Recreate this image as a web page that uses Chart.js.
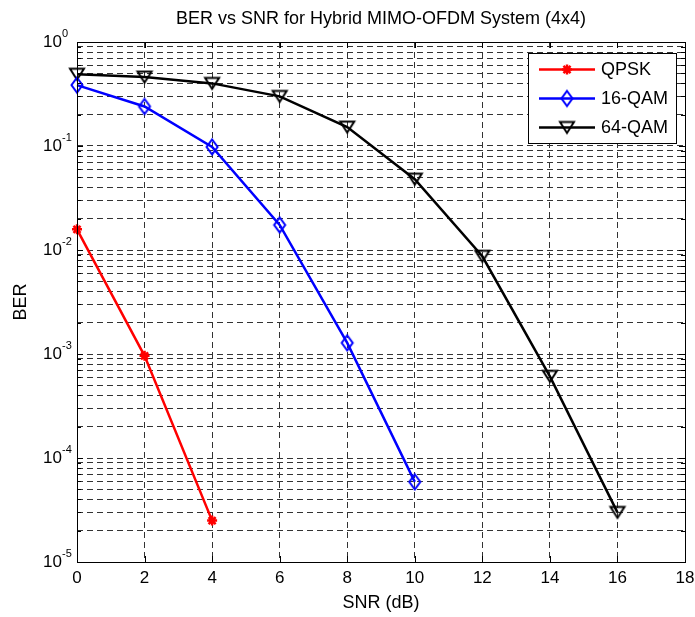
<!DOCTYPE html>
<html><head><meta charset="utf-8">
<style>html,body{margin:0;padding:0;background:#fff;}#wrap{width:695px;height:617px;}</style>
<script src="https://cdn.jsdelivr.net/npm/chart.js@4.4.0/dist/chart.umd.min.js"></script>
</head><body><div id="wrap"><canvas id="c" width="695" height="617"></canvas></div>
<script>
// ---- data ----
const titleText = 'BER vs SNR for Hybrid MIMO-OFDM System (4x4)';
const xAxisLabel = 'SNR (dB)';
const yAxisLabel = 'BER';
const seriesNames = ['QPSK', '16-QAM', '64-QAM'];
const snrQPSK = [0, 2, 4];
const berQPSK = [0.0158, 0.00096, 0.000025];
const snr16QAM = [0, 2, 4, 6, 8, 10];
const ber16QAM = [0.385, 0.24, 0.098, 0.0174, 0.00128, 0.000059];
const snr64QAM = [0, 2, 4, 6, 8, 10, 12, 14, 16];
const ber64QAM = [0.49, 0.46, 0.40, 0.30, 0.152, 0.048, 0.0087, 0.00061, 0.00003];
const xTickValues = [0, 2, 4, 6, 8, 10, 12, 14, 16, 18];
const yDecadeExponents = [-5, -4, -3, -2, -1, 0];
const yMinorMultipliers = [1, 2, 3, 4, 5, 6, 7, 8, 9];

const yTickValues = [];
yDecadeExponents.forEach(e => {
  if (e === 0) { yTickValues.push(1); return; }
  yMinorMultipliers.forEach(m => yTickValues.push(m * Math.pow(10, e)));
});

function pts(xs, ys) { return xs.map((x, i) => ({x: x, y: ys[i]})); }

// ---- marker images ----
function makeDiamond(color) {
  const c = document.createElement('canvas'); c.width = 16; c.height = 20;
  const g = c.getContext('2d');
  g.strokeStyle = color; g.lineWidth = 2;
  g.beginPath(); g.moveTo(8, 2.5); g.lineTo(13.5, 10); g.lineTo(8, 17.5); g.lineTo(2.5, 10); g.closePath(); g.stroke();
  return c;
}
function makeTriDown(color) {
  const c = document.createElement('canvas'); c.width = 20; c.height = 18;
  const g = c.getContext('2d');
  g.strokeStyle = color; g.lineWidth = 2; g.lineJoin = 'miter';
  g.beginPath(); g.moveTo(3, 3.5); g.lineTo(17, 3.5); g.lineTo(10, 14.5); g.closePath(); g.stroke();
  return c;
}
const diamondImg = makeDiamond('#0000ff');
const triImg = makeTriDown('#000000');

const FONT = "'Liberation Sans', Arial, Helvetica, sans-serif";

const decor = {
  id: 'decor',
  afterDraw(chart) {
    const ctx = chart.ctx, a = chart.chartArea;
    const ys = chart.scales.y, xs = chart.scales.x;
    ctx.save();
    // frame
    ctx.strokeStyle = '#000'; ctx.lineWidth = 1; ctx.setLineDash([]);
    ctx.strokeRect(Math.round(a.left) + 0.5, Math.round(a.top) + 0.5, Math.round(a.right - a.left), Math.round(a.bottom - a.top));
    // y ticks (inside, left and right)
    ctx.beginPath();
    yTickValues.forEach(v => {
      const y = Math.round(ys.getPixelForValue(v)) + 0.5;
      const len = (Math.abs(Math.log10(v) - Math.round(Math.log10(v))) < 1e-9) ? 6 : 4;
      ctx.moveTo(a.left, y); ctx.lineTo(a.left + len, y);
      ctx.moveTo(a.right, y); ctx.lineTo(a.right - len, y);
    });
    xTickValues.forEach(v => {
      const x = Math.round(xs.getPixelForValue(v)) + 0.5;
      ctx.moveTo(x, a.bottom); ctx.lineTo(x, a.bottom - 6);
      ctx.moveTo(x, a.top); ctx.lineTo(x, a.top + 6);
    });
    ctx.stroke();
    // y tick labels 10^e
    ctx.fillStyle = '#000';
    yDecadeExponents.forEach(e => {
      const y = ys.getPixelForValue(Math.pow(10, e));
      ctx.font = '17px ' + FONT;
      ctx.textAlign = 'right'; ctx.textBaseline = 'middle';
      ctx.fillText('10', 62, y);
      ctx.font = '11px ' + FONT;
      ctx.textAlign = 'left'; ctx.textBaseline = 'alphabetic';
      ctx.fillText(String(e), 62, y - 5);
    });
    // title
    ctx.font = '18px ' + FONT;
    ctx.textAlign = 'center'; ctx.textBaseline = 'middle';
    ctx.fillText(titleText, (a.left + a.right) / 2, 19);
    // legend
    const lx = 528, ly = 53, lw = 148, lh = 90;
    ctx.fillStyle = '#fff';
    ctx.fillRect(lx, ly, lw, lh);
    ctx.strokeStyle = '#000'; ctx.lineWidth = 1;
    ctx.strokeRect(lx + 0.5, ly + 0.5, lw, lh);
    chart.data.datasets.forEach((ds, i) => {
      const ry = 69.5 + i * 29;
      ctx.strokeStyle = ds.borderColor; ctx.lineWidth = ds.borderWidth;
      ctx.beginPath(); ctx.moveTo(539, ry); ctx.lineTo(595, ry); ctx.stroke();
      ctx.fillStyle = ds.borderColor;
      Chart.helpers.drawPoint(ctx, {pointStyle: ds.pointStyle, rotation: 0, radius: ds.pointRadius, borderWidth: ds.pointBorderWidth}, 567, ry);
      ctx.fillStyle = '#000';
      ctx.font = '18px ' + FONT; ctx.textAlign = 'left'; ctx.textBaseline = 'middle';
      ctx.fillText(ds.label, 601, ry + 1);
    });
    ctx.restore();
  }
};

const gridCommon = { color: '#333333', lineWidth: 1, drawTicks: false };

new Chart(document.getElementById('c'), {
  type: 'line',
  data: {
    datasets: [
      { label: seriesNames[0], data: pts(snrQPSK, berQPSK), borderColor: '#ff0000', backgroundColor: '#ff0000',
        borderWidth: 2.5, pointStyle: 'star', pointRadius: 5, pointBorderWidth: 2.5, pointBorderColor: '#ff0000', clip: false },
      { label: seriesNames[1], data: pts(snr16QAM, ber16QAM), borderColor: '#0000ff', backgroundColor: '#0000ff',
        borderWidth: 2.5, pointStyle: diamondImg, pointRadius: 7, pointBorderWidth: 2, clip: false },
      { label: seriesNames[2], data: pts(snr64QAM, ber64QAM), borderColor: '#000000', backgroundColor: '#000000',
        borderWidth: 2.5, pointStyle: triImg, pointRadius: 8, pointBorderWidth: 2, clip: false }
    ]
  },
  options: {
    responsive: false, animation: false, devicePixelRatio: 1,
    layout: { padding: { left: 0, right: 10, top: 42, bottom: 0 } },
    plugins: { legend: { display: false }, title: { display: false }, tooltip: { enabled: false } },
    elements: { line: { tension: 0 } },
    scales: {
      x: {
        type: 'linear', min: 0, max: 18,
        afterBuildTicks: s => { s.ticks = xTickValues.map(v => ({value: v})); },
        afterFit: s => { s.height = 55; s.paddingLeft = 0; s.paddingRight = 0; },
        ticks: { color: '#000', font: { size: 17, family: FONT }, padding: 6, autoSkip: false, maxRotation: 0 },
        grid: gridCommon,
        border: { display: false, dash: [6, 4] },
        title: { display: true, text: xAxisLabel, color: '#000', font: { size: 18, family: FONT }, padding: { top: 0, bottom: 3 } }
      },
      y: {
        type: 'logarithmic', min: 1e-5, max: 1,
        afterBuildTicks: s => { s.ticks = yTickValues.map(v => ({value: v})); },
        afterFit: s => { s.width = 77; s.paddingTop = 0; s.paddingBottom = 0; },
        ticks: { display: false, autoSkip: false },
        grid: gridCommon,
        border: { display: false, dash: [6, 4] },
        title: { display: true, text: yAxisLabel, color: '#000', font: { size: 18, family: FONT }, padding: { top: 10, bottom: 0 } }
      }
    }
  },
  plugins: [decor]
});
</script></body></html>
